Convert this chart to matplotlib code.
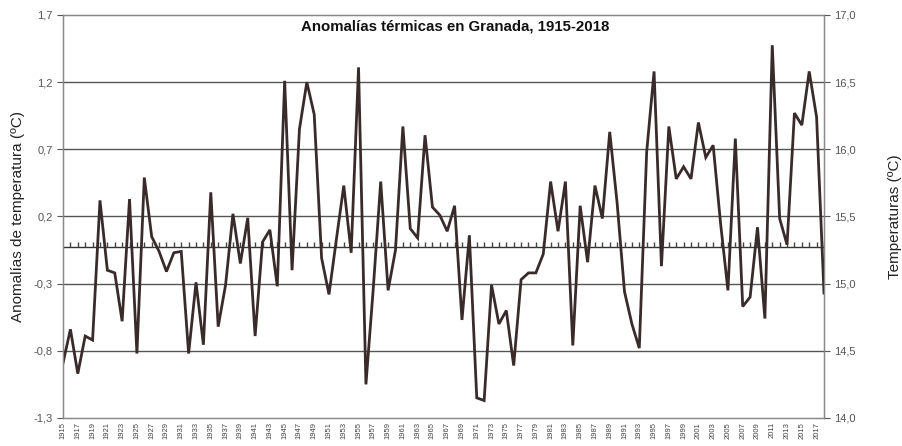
import matplotlib
matplotlib.use("Agg")
import matplotlib.pyplot as plt
from matplotlib.ticker import FixedLocator, FuncFormatter

plt.rcParams['font.family'] = ['Liberation Sans', 'DejaVu Sans']

years = list(range(1915, 2019))
anomalies = [
    -0.89, -0.64, -0.97, -0.69, -0.72, 0.32, -0.20, -0.22, -0.58, 0.33,   # 1915-1924
    -0.82, 0.49, 0.05, -0.06, -0.21, -0.07, -0.06, -0.82, -0.29, -0.755,  # 1925-1934
    0.38, -0.62, -0.31, 0.22, -0.15, 0.19, -0.69, 0.01, 0.10, -0.32,      # 1935-1944
    1.21, -0.20, 0.85, 1.20, 0.96, -0.11, -0.38, 0.03, 0.43, -0.07,       # 1945-1954
    1.31, -1.05, -0.33, 0.46, -0.35, -0.05, 0.87, 0.11, 0.04, 0.805,      # 1955-1964
    0.27, 0.21, 0.09, 0.28, -0.57, 0.06, -1.15, -1.17, -0.31, -0.60,      # 1965-1974
    -0.50, -0.91, -0.27, -0.22, -0.22, -0.08, 0.46, 0.09, 0.46, -0.76,    # 1975-1984
    0.28, -0.14, 0.43, 0.185, 0.83, 0.30, -0.36, -0.60, -0.78, 0.68,      # 1985-1994
    1.28, -0.17, 0.87, 0.48, 0.57, 0.48, 0.90, 0.64, 0.73, 0.15,          # 1995-2004
    -0.35, 0.78, -0.47, -0.40, 0.12, -0.56, 1.475, 0.185, -0.01, 0.97,    # 2005-2014
    0.88, 1.28, 0.94, -0.37,                                              # 2015-2018
]
mean_anomaly = -0.03
left_ticks = [-1.3, -0.8, -0.3, 0.2, 0.7, 1.2, 1.7]
right_ticks = [14.0, 14.5, 15.0, 15.5, 16.0, 16.5, 17.0]
xtick_years = list(range(1915, 2018, 2))
title = "Anomalías térmicas en Granada, 1915-2018"
ylabel_left = "Anomalías de temperatura (ºC)"
ylabel_right = "Temperaturas (ºC)"

fig = plt.figure(figsize=(9.03, 4.46), dpi=100)
ax = fig.add_axes([0.0698, 0.0628, 0.8427, 0.9036])

grid_c = '#555555'
for t in left_ticks[1:-1]:
    ax.axhline(t, color=grid_c, lw=1.0, zorder=1)

# mean line with small ticks
ax.plot([years[0], years[-1]], [mean_anomaly, mean_anomaly], color='#333333', lw=1.0, zorder=2)
ax.plot(years[1:], [mean_anomaly] * len(years[1:]), linestyle='none', marker=2,
        markersize=3.5, markeredgewidth=1.0, color='#444444', zorder=2)

ax.plot(years, anomalies, color='#3a2b2b', lw=2.0, zorder=3, solid_joinstyle='miter')

ax.set_xlim(years[0], years[-1])
ax.set_ylim(left_ticks[0], left_ticks[-1])
ax.yaxis.set_major_locator(FixedLocator(left_ticks))
ax.yaxis.set_major_formatter(FuncFormatter(lambda v, p: f"{v:.1f}".replace('.', ',')))
ax.set_xticks(xtick_years)
ax.set_xticklabels([str(y) for y in xtick_years], rotation=90, fontsize=5.5, color='#444444')
ax.tick_params(axis='x', length=0, pad=3)
ax.tick_params(axis='y', labelsize=8, colors='#555555', length=4, width=0.8, direction='out')

for s in ['top', 'left', 'bottom', 'right']:
    ax.spines[s].set_color('#888888')
    ax.spines[s].set_linewidth(1.0)

ax.set_ylabel(ylabel_left, fontsize=11, color='#222222', labelpad=6)

ax2 = ax.twinx()
ax2.set_ylim(right_ticks[0], right_ticks[-1])
ax2.yaxis.set_major_locator(FixedLocator(right_ticks))
ax2.yaxis.set_major_formatter(FuncFormatter(lambda v, p: f"{v:.1f}".replace('.', ',')))
ax2.tick_params(axis='y', labelsize=8, colors='#555555', length=4, width=0.8, direction='out')
for s in ['top', 'left', 'bottom', 'right']:
    ax2.spines[s].set_color('#888888')
ax2.set_ylabel(ylabel_right, fontsize=11, color='#222222', labelpad=23)

ax.text(0.516, 0.988, title, transform=ax.transAxes, ha='center', va='top',
        fontsize=10.8, fontweight='bold', color='#111111')

fig.savefig('out.png', dpi=100)
